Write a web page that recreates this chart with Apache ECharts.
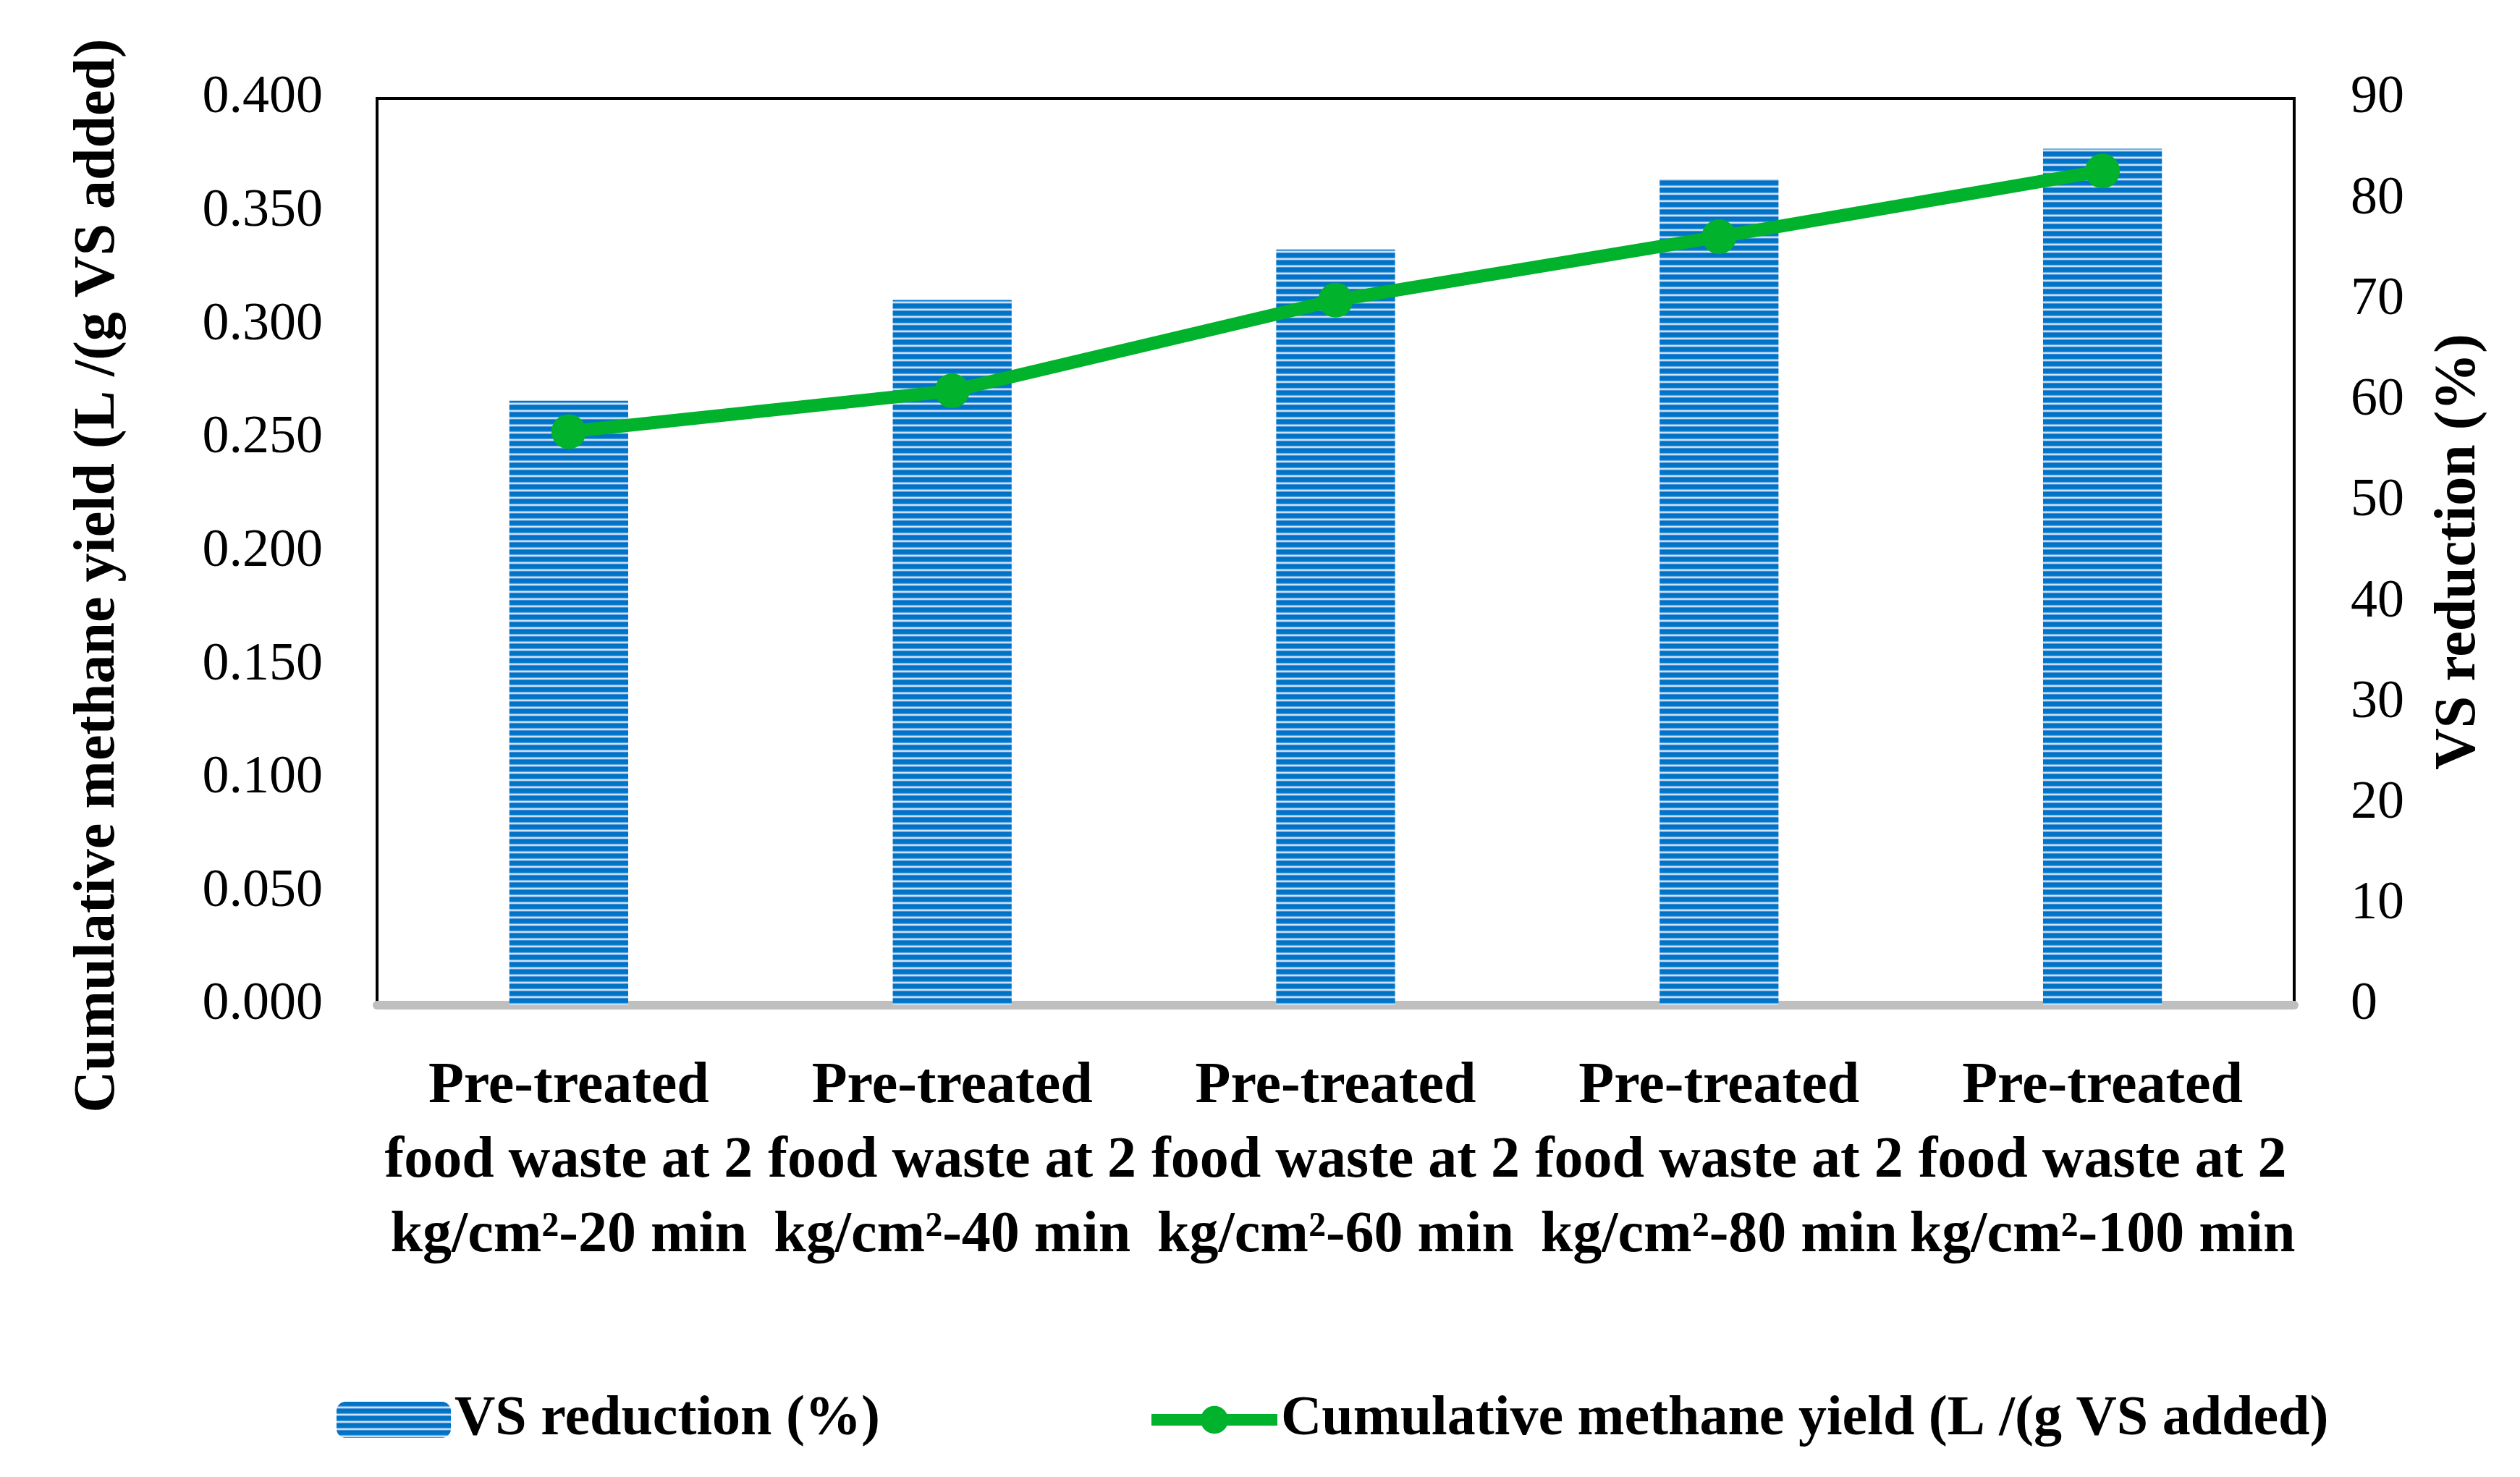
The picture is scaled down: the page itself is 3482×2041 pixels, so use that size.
<!DOCTYPE html>
<html>
<head>
<meta charset="utf-8">
<script src="https://cdn.jsdelivr.net/npm/echarts@6/dist/echarts.min.js"></script>
<style>
html,body{margin:0;padding:0;background:#fff;}
#c{width:3482px;height:2041px;}
</style>
</head>
<body>
<div id="c"></div>
<script>
const categories = [
  'Pre-treated\nfood waste at 2\nkg/cm²-20 min',
  'Pre-treated\nfood waste at 2\nkg/cm²-40 min',
  'Pre-treated\nfood waste at 2\nkg/cm²-60 min',
  'Pre-treated\nfood waste at 2\nkg/cm²-80 min',
  'Pre-treated\nfood waste at 2\nkg/cm²-100 min'
];
const vsReduction = [60, 70, 75, 82, 85];
const methaneYield = [0.253, 0.271, 0.311, 0.339, 0.368];
const barName = 'VS reduction (%)';
const lineName = 'Cumulative methane yield (L /(g VS added)';
const leftAxisName = 'Cumulative methane yield (L /(g VS added)';
const rightAxisName = 'VS reduction (%)';

// striped fill pattern
const pc = document.createElement('canvas');
pc.width = 20; pc.height = 10;
const pctx = pc.getContext('2d');
const rows = ['#0072c6','#0072c6','#0074c8','#0074c8','#0076ca','#0a7ccd','#6fa9df','#d2e4f6','#c2daf2','#4a92d6'];
rows.forEach((c, i) => { pctx.fillStyle = c; pctx.fillRect(0, i, 20, 1); });

const FONT = 'Liberation Serif';
const GREEN = '#00b22c';
const chart = echarts.init(document.getElementById('c'));
chart.setOption({
  backgroundColor: '#fff',
  animation: false,
  grid: {
    left: 521, right: 312, top: 136, bottom: 652,
    show: true, borderColor: '#000', borderWidth: 4, backgroundColor: 'transparent'
  },
  legend: [
    {
      data: [barName], left: 460, top: 1918,
      itemWidth: 158, itemHeight: 50,
      textStyle: { fontFamily: FONT, fontSize: 78, fontWeight: 'bold', color: '#000' }
    },
    {
      data: [lineName], left: 1578, top: 1918,
      itemWidth: 174, itemHeight: 48,
      lineStyle: { width: 16, color: GREEN },
      textStyle: { fontFamily: FONT, fontSize: 78, fontWeight: 'bold', color: '#000' }
    }
  ],
  xAxis: {
    type: 'category',
    data: categories,
    axisLine: { show: true, lineStyle: { color: '#bfbfbf', width: 12 } },
    axisTick: { show: false },
    axisLabel: {
      interval: 0, margin: 62, lineHeight: 103,
      fontFamily: FONT, fontSize: 80, fontWeight: 'bold', color: '#000'
    },
    splitLine: { show: false }
  },
  yAxis: [
    {
      type: 'value', min: 0, max: 0.4, interval: 0.05,
      name: leftAxisName, nameLocation: 'middle', nameGap: 345, nameRotate: 90,
      nameTextStyle: { fontFamily: FONT, fontSize: 80, fontWeight: 'bold', color: '#000', padding: [0, 66, 0, 0] },
      axisLine: { show: true, lineStyle: { color: '#000', width: 4 } },
      axisTick: { show: false },
      splitLine: { show: false },
      axisLabel: {
        margin: 75, fontFamily: FONT, fontSize: 74, color: '#000',
        formatter: v => v.toFixed(3)
      }
    },
    {
      type: 'value', min: 0, max: 90, interval: 10,
      name: rightAxisName, nameLocation: 'middle', nameGap: 188, nameRotate: 90,
      nameTextStyle: { fontFamily: FONT, fontSize: 80, fontWeight: 'bold', color: '#000' },
      axisLine: { show: true, lineStyle: { color: '#000', width: 3 } },
      axisTick: { show: false },
      splitLine: { show: false },
      axisLabel: { margin: 78, fontFamily: FONT, fontSize: 74, color: '#000' }
    }
  ],
  series: [
    {
      name: barName, type: 'bar', yAxisIndex: 1,
      data: vsReduction, barWidth: '31%',
      itemStyle: { color: { image: pc, repeat: 'repeat' } },
      z: 2
    },
    {
      name: lineName, type: 'line', yAxisIndex: 0,
      data: methaneYield,
      symbol: 'circle', symbolSize: 48,
      lineStyle: { color: GREEN, width: 18 },
      itemStyle: { color: GREEN },
      z: 5
    }
  ]
});
</script>
</body>
</html>
